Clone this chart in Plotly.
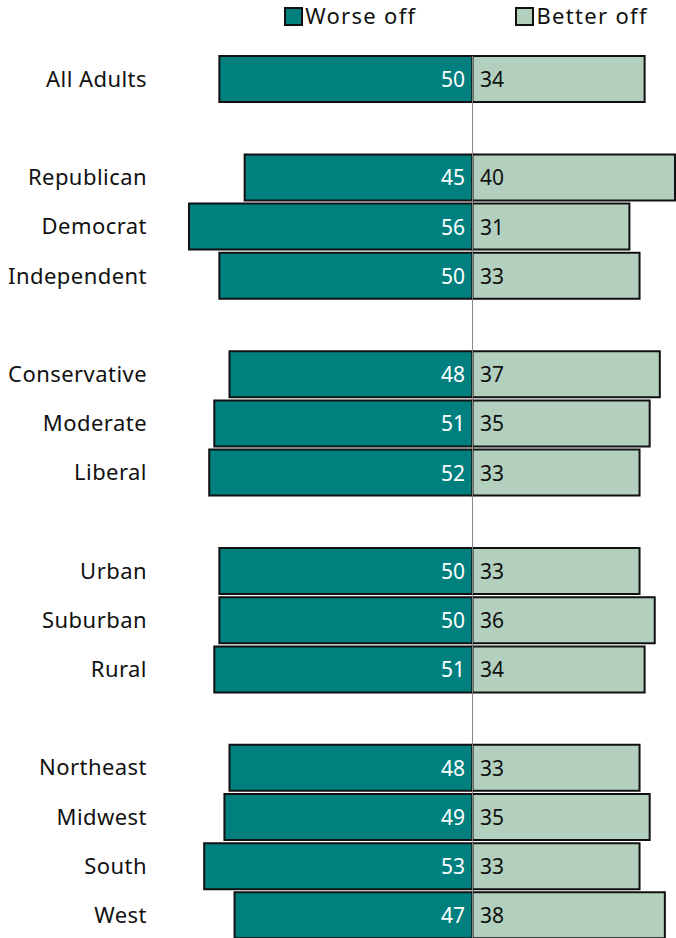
import plotly.graph_objects as go

# Survey groups, with None marking the spacer rows between blocks
groups = ["All Adults", None,
          "Republican", "Democrat", "Independent", None,
          "Conservative", "Moderate", "Liberal", None,
          "Urban", "Suburban", "Rural", None,
          "Northeast", "Midwest", "South", "West"]
worse_off = [50, None, 45, 56, 50, None, 48, 51, 52, None, 50, 50, 51, None, 48, 49, 53, 47]
better_off = [34, None, 40, 31, 33, None, 37, 35, 33, None, 33, 36, 34, None, 33, 35, 33, 38]
series_names = ["Worse off", "Better off"]

rows = [i for i, g in enumerate(groups) if g is not None]
labels = [groups[i] for i in rows]
worse = [worse_off[i] for i in rows]
better = [better_off[i] for i in rows]

TEAL = "#007F7F"
SAGE = "#B3D0BF"
INK = "#111111"
FONT = "Noto Sans"
KEY_TRACKING = 1.3  # px of letter spacing on the key labels

W, H = 676, 938
M_L, M_T = 150, 40
PLOT_W, PLOT_H = W - M_L, H - M_T


def px_x(p):
    """pixel column -> paper x"""
    return (p - M_L) / PLOT_W


def px_y(p):
    """pixel row -> paper y"""
    return 1 + (M_T - p) / PLOT_H


fig = go.Figure()
fig.add_trace(go.Bar(
    name=series_names[0], orientation="h",
    y=rows, x=[-v for v in worse], base=0,
    width=0.935,
    marker=dict(color=TEAL, line=dict(color=INK, width=2)),
    hoverinfo="skip",
))
fig.add_trace(go.Bar(
    name=series_names[1], orientation="h",
    y=rows, x=better, base=0,
    width=0.935,
    marker=dict(color=SAGE, line=dict(color=INK, width=2)),
    hoverinfo="skip",
))

# value labels sitting on either side of the centre line
for r, w, b in zip(rows, worse, better):
    fig.add_annotation(x=0, y=r, xref="x", yref="y", text=str(w),
                       showarrow=False, xanchor="right", xshift=-5,
                       font=dict(family=FONT, size=21, color="white"))
    fig.add_annotation(x=0, y=r, xref="x", yref="y", text=str(b),
                       showarrow=False, xanchor="left", xshift=6,
                       font=dict(family=FONT, size=21, color=INK))
n_value_labels = 2 * len(rows)

# thin zero line through the middle of the bars
fig.add_shape(type="line", xref="x", yref="y", x0=0, x1=0,
              y0=-0.47, y1=17.5, line=dict(color="#888888", width=1),
              layer="above")

# key above the chart: swatch + label for each series
for name, color, sx in zip(series_names, [TEAL, SAGE], [285, 516]):
    fig.add_shape(type="rect", xref="paper", yref="paper",
                  x0=px_x(sx), x1=px_x(sx + 17),
                  y0=px_y(25), y1=px_y(8),
                  fillcolor=color, line=dict(color=INK, width=2))
    # label text is centred in its box, so offset by half the extra tracking
    fig.add_annotation(xref="paper", yref="paper",
                       x=px_x(sx + 19), y=px_y(15),
                       xanchor="left", yanchor="middle",
                       xshift=len(name) * KEY_TRACKING / 2,
                       text=name, showarrow=False, borderpad=0,
                       font=dict(family=FONT, size=22, color=INK))

fig.update_layout(
    width=W, height=H,
    margin=dict(l=M_L, r=0, t=M_T, b=0),
    paper_bgcolor="white", plot_bgcolor="white",
    barmode="overlay",
    font=dict(family=FONT, size=22, color=INK),
    showlegend=False,
    xaxis=dict(range=[-63.7, 40.2], visible=False, fixedrange=True),
    yaxis=dict(range=[17.46, -0.793], tickvals=rows, ticktext=labels,
               showgrid=False, zeroline=False, showline=False,
               ticks="", ticklabelstandoff=2,
               tickfont=dict(family=FONT, size=22, color=INK)),
)

# slightly open tracking on the category and key text
key_sel = ", ".join(
    '.annotation[data-index="%d"] text' % i
    for i in (n_value_labels, n_value_labels + 1)
)
tracking_css = """
var s = document.createElement('style');
s.textContent = '.ytick text { letter-spacing: 0.45px; } %s { letter-spacing: %.1fpx; }';
document.head.appendChild(s);
""" % (key_sel.replace("'", "\\'"), KEY_TRACKING)

fig.write_html("out.html", post_script=tracking_css)
